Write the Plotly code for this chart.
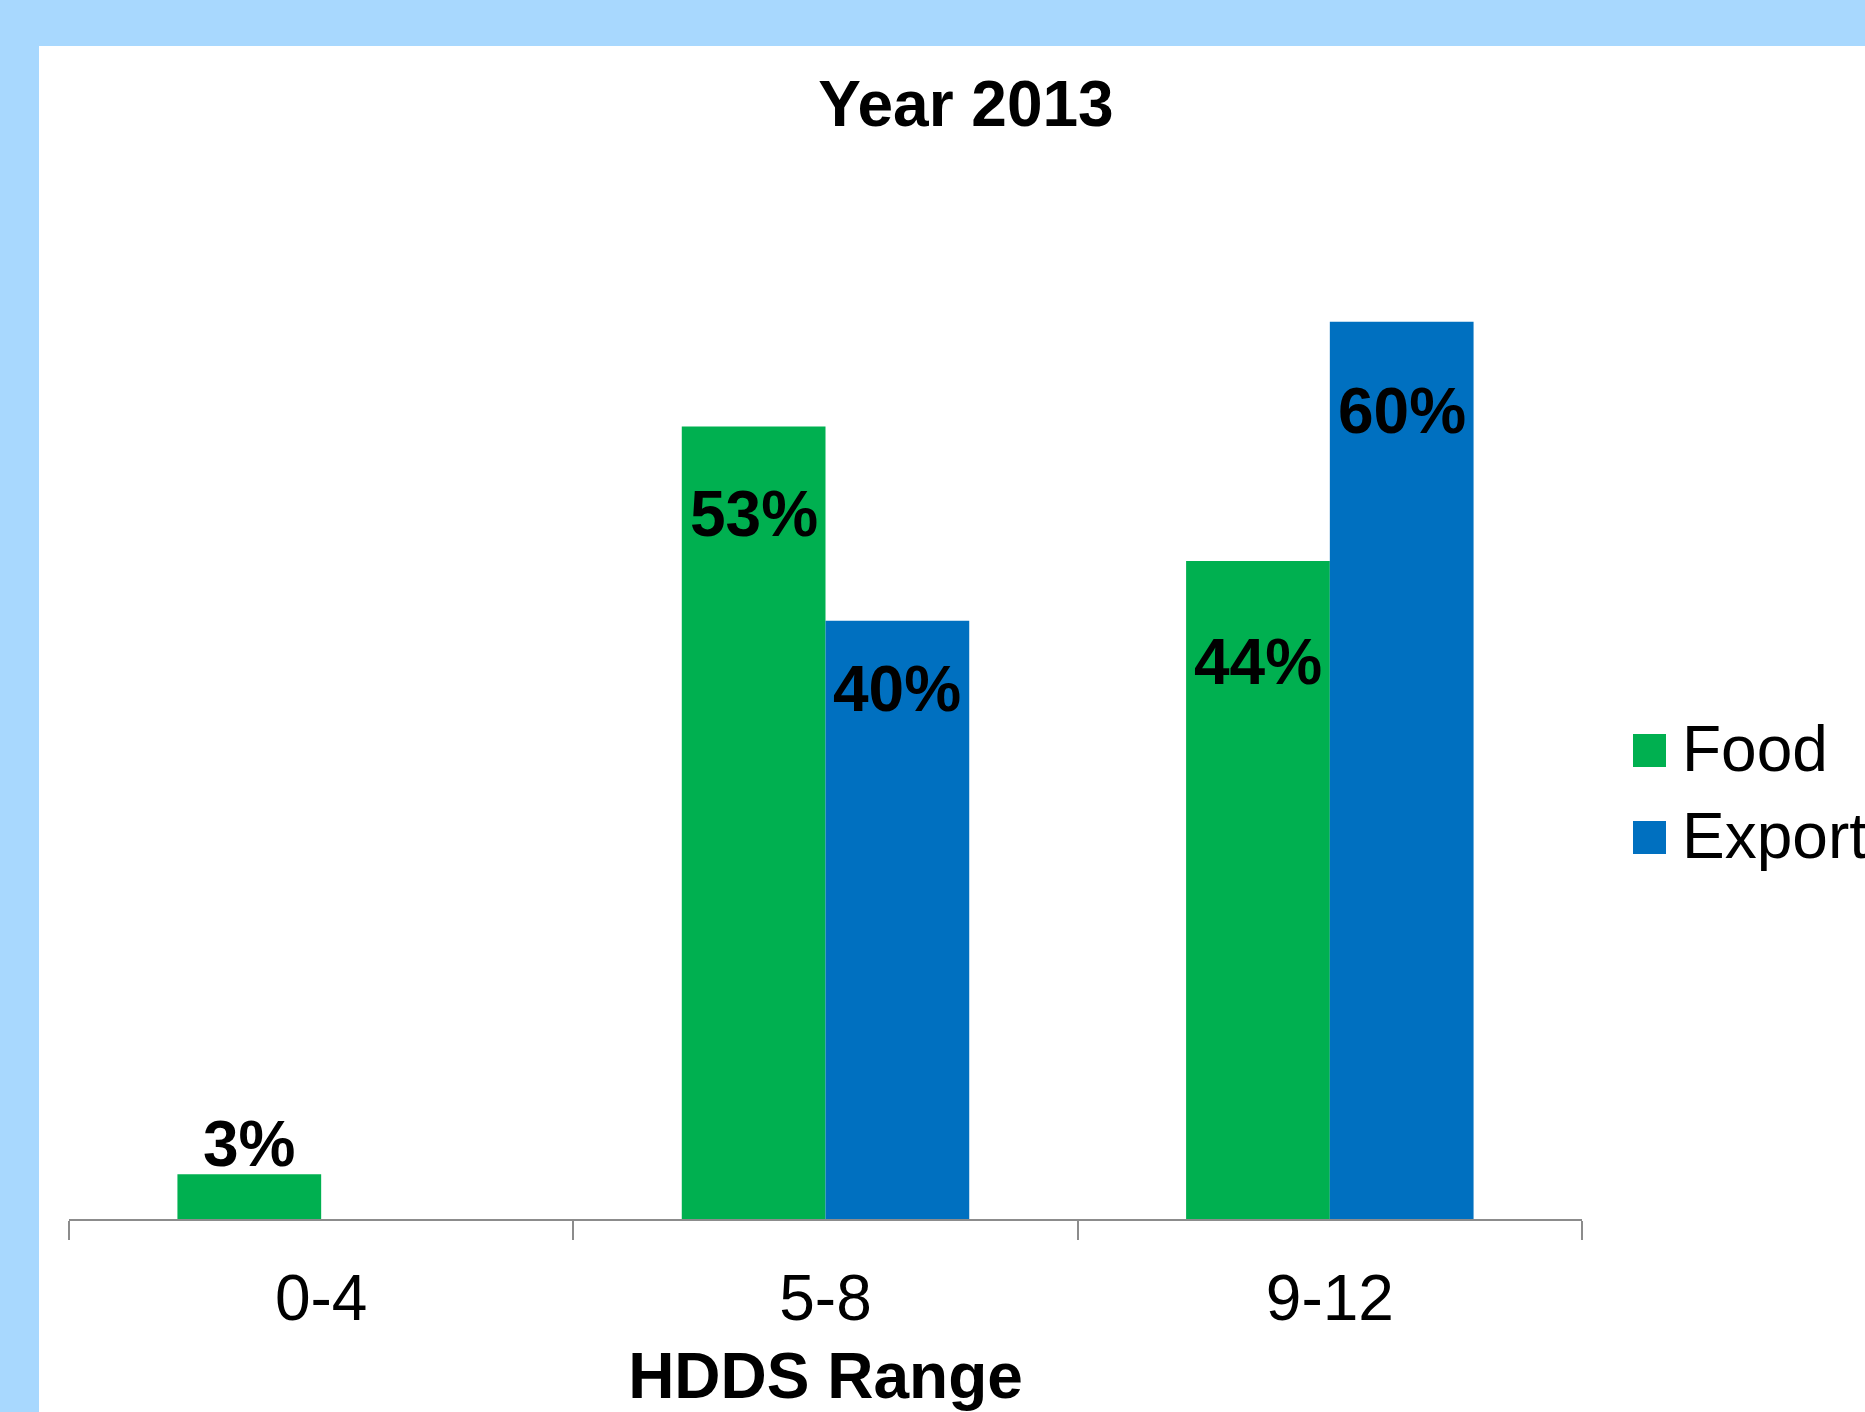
import plotly.graph_objects as go

# ---- data ----
categories = ["0-4", "5-8", "9-12"]
food = [3, 53, 44]
export = [None, 40, 60]
series_names = ["Food", "Export"]
title_text = "Year 2013"
x_title = "HDDS Range"

# ---- styling ----
W, H = 1865, 1412
L, R, T, B = 69, 283, 232, 193
FONT = "Liberation Sans, Arial, sans-serif"
GREEN = "#00B050"
BLUE = "#0070C0"
BORDER = "#A8D8FE"
AXIS = "#8C8C8C"
FS = 64
BARGAP = 0.43
# per-label pixel offsets (negative = below bar top)
food_label_shift = [30, -88, -101]
export_label_shift = [0, -68, -89]

pw, ph = W - L - R, H - T - B


def px_x(px):
    return (px - L) / pw


def px_y(py):
    return (H - B - py) / ph


fig = go.Figure()
fig.add_trace(go.Bar(x=categories, y=food, name=series_names[0],
                     marker=dict(color=GREEN, line=dict(width=0)),
                     showlegend=False))
fig.add_trace(go.Bar(x=categories, y=export, name=series_names[1],
                     marker=dict(color=BLUE, line=dict(width=0)),
                     showlegend=False))

half = (1 - BARGAP) / 4.0
annotations = []
for i, (v, s) in enumerate(zip(food, food_label_shift)):
    if v is None:
        continue
    annotations.append(dict(x=i - half, y=v, xref="x", yref="y", text=f"{v}%",
                            showarrow=False, yanchor="middle", yshift=s,
                            font=dict(family=FONT, size=FS, color="black", weight="bold")))
for i, (v, s) in enumerate(zip(export, export_label_shift)):
    if v is None:
        continue
    annotations.append(dict(x=i + half, y=v, xref="x", yref="y", text=f"{v}%",
                            showarrow=False, yanchor="middle", yshift=s,
                            font=dict(family=FONT, size=FS, color="black", weight="bold")))

# manual legend
shapes = [
    dict(type="rect", xref="paper", yref="paper", layer="below",
         x0=px_x(39), x1=px_x(W + 5), y0=px_y(46), y1=px_y(H + 5),
         fillcolor="white", line=dict(width=0)),
]
leg_items = [(series_names[0], GREEN, 750.5), (series_names[1], BLUE, 837.5)]
for name, col, cy in leg_items:
    shapes.append(dict(type="rect", xref="paper", yref="paper",
                       x0=px_x(1633), x1=px_x(1666), y0=px_y(cy - 16.5), y1=px_y(cy + 16.5),
                       fillcolor=col, line=dict(width=0)))
    annotations.append(dict(x=px_x(1680), y=px_y(cy - 2), xref="paper", yref="paper",
                            text=name, showarrow=False, xanchor="left", yanchor="middle",
                            font=dict(family=FONT, size=FS, color="black")))

fig.update_layout(
    width=W, height=H,
    margin=dict(l=L, r=R, t=T, b=B, autoexpand=False),
    paper_bgcolor=BORDER,
    plot_bgcolor="white",
    barmode="group", bargap=BARGAP, bargroupgap=0,
    showlegend=False,
    title=dict(text=title_text, x=966 / W, xanchor="center", xref="container",
               y=1 - 81 / H, yanchor="top", yref="container",
               font=dict(family=FONT, size=FS, color="black", weight="bold")),
    xaxis=dict(
        type="category", range=[-0.5, 2.5],
        showline=True, linecolor=AXIS, linewidth=2,
        ticks="outside", tickson="boundaries", ticklen=19, tickwidth=2, tickcolor=AXIS,
        tickfont=dict(family=FONT, size=FS, color="black"),
        ticklabelstandoff=22,
        showgrid=False, zeroline=False, automargin=False,
        title=dict(text=x_title, standoff=23,
                   font=dict(family=FONT, size=FS, color="black", weight="bold")),
    ),
    yaxis=dict(range=[0, 66], visible=False, showgrid=False, zeroline=False),
    shapes=shapes,
    annotations=annotations,
)

post = ("document.documentElement.style.margin='0';"
        "document.body.style.margin='0';"
        "document.body.style.overflow='hidden';"
        "document.documentElement.style.overflow='hidden';")

fig.write_html("out.html", post_script=post,
               config={"displayModeBar": False, "staticPlot": True})
